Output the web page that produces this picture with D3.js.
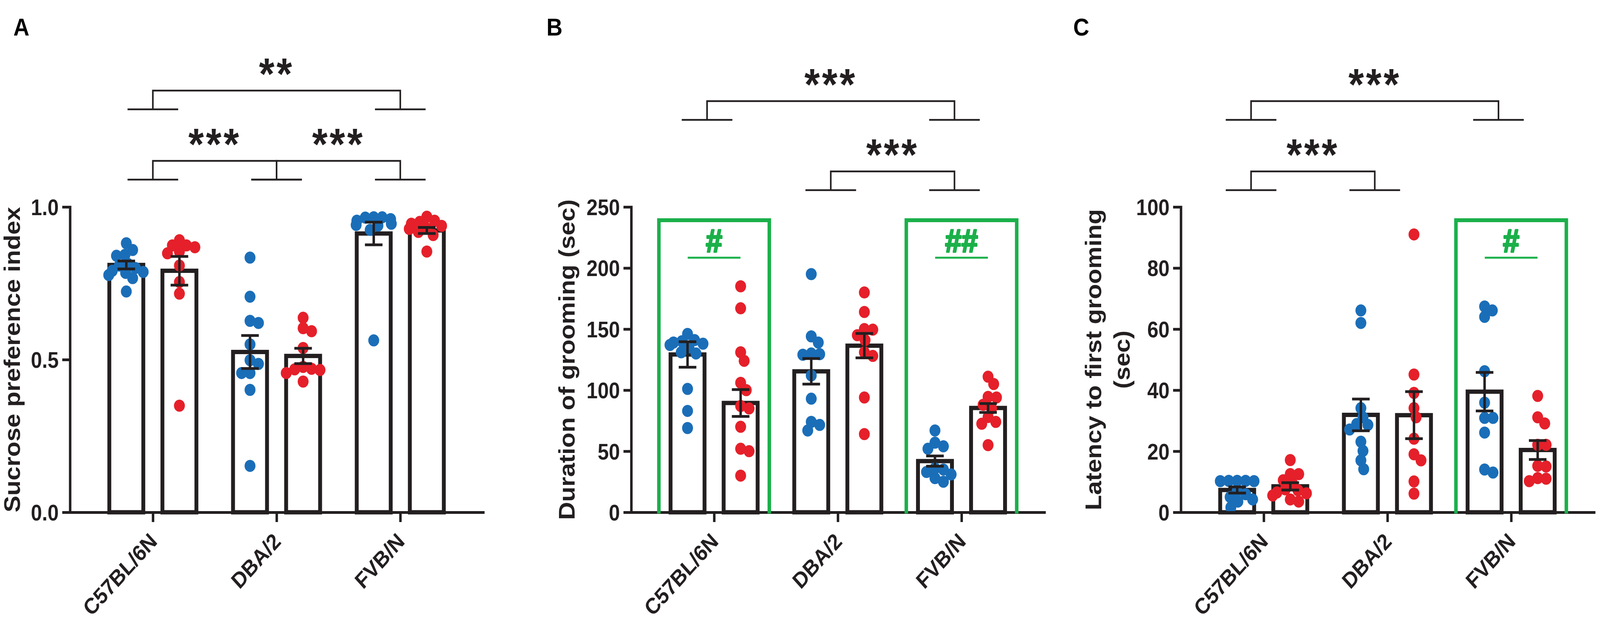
<!DOCTYPE html>
<html>
<head>
<meta charset="utf-8">
<script src="https://cdn.jsdelivr.net/npm/d3@7"></script>
<style>
  html, body { margin: 0; padding: 0; width: 100%; height: 100%; overflow: hidden; background: #fff; }
  svg { display: block; }
  text { font-family: "Liberation Sans", Arial, sans-serif; font-weight: bold; }
</style>
</head>
<body>
<svg id="chart" width="100%" height="100%" viewBox="0 0 4550 1593" preserveAspectRatio="none"></svg>
<script>
// ---- data ----
const strains = ['C57BL/6N', 'DBA/2', 'FVB/N'];
const series = ['blue', 'red'];

// A: sucrose preference index
const sucroseMean = [[0.810, 0.791], [0.525, 0.512], [0.913, 0.923]];
const sucroseSem = [[0.013, 0.047], [0.054, 0.025], [0.037, 0.010]];
const sucrosePoints = [
  [[0.881, 0.859, 0.843, 0.840, 0.814, 0.808, 0.800, 0.791, 0.787, 0.784, 0.777, 0.767, 0.723],
   [0.891, 0.874, 0.874, 0.868, 0.854, 0.848, 0.808, 0.754, 0.716, 0.349]],
  [[0.834, 0.706, 0.627, 0.620, 0.550, 0.498, 0.486, 0.456, 0.456, 0.401, 0.152],
   [0.637, 0.603, 0.593, 0.538, 0.476, 0.470, 0.468, 0.466, 0.456, 0.428]],
  [[0.966, 0.966, 0.965, 0.960, 0.955, 0.945, 0.941, 0.939, 0.925, 0.563],
   [0.968, 0.955, 0.951, 0.945, 0.938, 0.930, 0.928, 0.918, 0.908, 0.854]]
];
const sucroseTicks = [0, 0.5, 1.0];

// B: duration of grooming (sec)
const groomMean = [[129.2, 89.5], [115.4, 136.4], [41.9, 85.4]];
const groomSem = [[10.4, 11.0], [10.5, 10.0], [4.2, 3.6]];
const groomPoints = [
  [[146, 141, 140, 139, 138, 137, 135, 131, 130, 101, 83, 69],
   [185, 167, 131, 124, 106, 100, 87, 85, 70, 52, 50, 30]],
  [[195, 144, 139, 130, 129.5, 129, 112, 93, 74, 71.5, 67],
   [180, 164, 150, 149.5, 145, 141, 131, 128, 94, 64]],
  [[67, 57, 54, 52, 36, 35, 33, 31, 28, 25],
   [111, 105, 94.5, 94, 88, 85, 78, 74, 72.5, 55]]
];
const groomTicks = [0, 50, 100, 150, 200, 250];

// C: latency to first grooming (sec)
const latencyMean = [[7.3, 8.5], [31.9, 31.8], [39.5, 20.4]];
const latencySem = [[1.0, 1.2], [5.2, 7.7], [6.3, 3.1]];
const latencyPoints = [
  [[10.3, 10.3, 10.3, 10.2, 10.2, 7.0, 5.9, 5.0, 4.2, 3.5, 1.6],
   [17.1, 12.5, 12.5, 10.5, 9.5, 7.5, 7.2, 6.5, 6.2, 5.5, 4.2, 3.5]],
  [[66.1, 62.0, 34.1, 31.1, 28.9, 28.6, 27.1, 23.1, 20.1, 17.0, 14.1],
   [91.0, 45.1, 39.1, 34.1, 31.1, 24.1, 19.0, 17.0, 10.1, 6.1]],
  [[67.4, 66.1, 64.0, 46.2, 35.9, 30.9, 30.9, 26.1, 14.0, 13.0],
   [38.1, 31.1, 29.1, 22.1, 22.1, 15.2, 15.0, 11.2, 11.0, 10.2]]
];
const latencyTicks = [0, 20, 40, 60, 80, 100];

// significance annotations (group indices)
const sucroseSig = [{a: 0, b: 2, row: 0, label: '**'}, {a: 0, b: 1, row: 1, label: '***'}, {a: 1, b: 2, row: 1, label: '***'}];
const groomSig = [{a: 0, b: 2, row: 0, label: '***'}, {a: 1, b: 2, row: 1, label: '***'}];
const latencySig = [{a: 0, b: 2, row: 0, label: '***'}, {a: 0, b: 1, row: 1, label: '***'}];
const groomHash = [{g: 0, label: '#'}, {g: 2, label: '##'}];
const latencyHash = [{g: 2, label: '#'}];

// ---- layout ----
const colors = {blue: '#1a6eb8', red: '#e5202a'};
const ink = '#231f20';
const green = '#1bb04a';
const yTop = 530, yBase = 1312, axisLen = 1175;

const panels = [
  {letter: 'A', letterX: 38, x0: 199, max: 1, ticks: sucroseTicks, fmt: d3.format('.1f'),
   mean: sucroseMean, sem: sucroseSem, points: sucrosePoints, sig: sucroseSig, hash: [],
   title: ['Sucrose preference index'], titleX: [57], rows: [232, 412], shift: 0},
  {letter: 'B', letterX: 1554, x0: 1795, max: 250, ticks: groomTicks, fmt: d3.format('d'),
   mean: groomMean, sem: groomSem, points: groomPoints, sig: groomSig, hash: groomHash,
   title: ['Duration of grooming (sec)'], titleX: [1634], rows: [259, 439], shift: -20},
  {letter: 'C', letterX: 3052, x0: 3358, max: 100, ticks: latencyTicks, fmt: d3.format('d'),
   mean: latencyMean, sem: latencySem, points: latencyPoints, sig: latencySig, hash: latencyHash,
   title: ['Latency to first grooming', '(sec)'], titleX: [3132, 3213], rows: [259, 439], shift: -36}
];

const svg = d3.select('#chart');

// spread points sideways where they would overlap (like a column scatter)
function swarm(values, y, minDist, maxOff) {
  const placed = [];
  return values.map(v => {
    const py = y(v);
    let best = 0;
    for (let k = 0; k <= 40; k++) {
      const cands = k === 0 ? [0] : [k * 2, -k * 2];
      const ok = cands.find(dx => placed.every(p => Math.hypot(p.dx - dx, p.y - py) >= minDist));
      if (ok !== undefined) { best = ok; break; }
    }
    best = Math.max(-maxOff, Math.min(maxOff, best));
    placed.push({dx: best, y: py});
    return {v: v, dx: best, y: py};
  });
}

function draw(p) {
  const g = svg.append('g');

  const y = d3.scaleLinear().domain([0, p.max]).range([yBase, yTop]);
  const x = d3.scalePoint().domain(strains).range([p.x0, p.x0 + axisLen]).padding(0.67);
  const x1 = d3.scaleBand().domain(series).range([-151, 151]).paddingInner(0.36).paddingOuter(0.18);

  // bars
  strains.forEach((s, i) => {
    series.forEach((k, j) => {
      g.append('rect')
        .attr('x', x(s) + x1(k))
        .attr('y', y(p.mean[i][j]))
        .attr('width', x1.bandwidth())
        .attr('height', yBase - y(p.mean[i][j]))
        .attr('fill', '#fff')
        .attr('stroke', ink)
        .attr('stroke-width', 11);
    });
  });

  // dots
  strains.forEach((s, i) => {
    series.forEach((k, j) => {
      const cx = x(s) + x1(k) + x1.bandwidth() / 2;
      g.selectAll(null)
        .data(swarm(p.points[i][j], y, 24, 50))
        .join('circle')
        .attr('cx', d => cx + d.dx)
        .attr('cy', d => d.y)
        .attr('r', 15.5)
        .attr('fill', colors[k]);
    });
  });

  // error bars (mean +/- SEM)
  strains.forEach((s, i) => {
    series.forEach((k, j) => {
      const cx = x(s) + x1(k) + x1.bandwidth() / 2;
      const lo = y(p.mean[i][j] - p.sem[i][j]);
      const hi = y(p.mean[i][j] + p.sem[i][j]);
      const path = d3.path();
      path.moveTo(cx, lo); path.lineTo(cx, hi);
      path.moveTo(cx - 25, hi); path.lineTo(cx + 25, hi);
      path.moveTo(cx - 25, lo); path.lineTo(cx + 25, lo);
      g.append('path').attr('d', path.toString())
        .attr('fill', 'none').attr('stroke', ink).attr('stroke-width', 7);
    });
  });

  // y axis
  const ya = g.append('g')
    .attr('transform', `translate(${p.x0},0)`)
    .call(d3.axisLeft(y).tickValues(p.ticks).tickFormat(p.fmt).tickSize(22).tickSizeOuter(0).tickPadding(10));
  ya.select('.domain').attr('stroke', ink).attr('stroke-width', 7).attr('stroke-linecap', 'square');
  ya.selectAll('.tick line').attr('stroke', ink).attr('stroke-width', 7);
  ya.selectAll('.tick text').attr('fill', ink).attr('font-size', 57).attr('dy', '0.36em');

  // x axis
  const xa = g.append('g')
    .attr('transform', `translate(0,${yBase})`)
    .call(d3.axisBottom(x).tickSize(25).tickSizeOuter(0));
  xa.select('.domain').attr('stroke', ink).attr('stroke-width', 7).attr('stroke-linecap', 'square');
  xa.selectAll('.tick line').attr('stroke', ink).attr('stroke-width', 7);
  xa.selectAll('.tick text')
    .attr('fill', ink).attr('font-size', 57)
    .attr('x', 0).attr('y', 0).attr('dy', 0)
    .attr('text-anchor', 'end')
    .attr('transform', 'translate(15,78) rotate(-45)');
  g.selectAll('.tick text').attr('font-family', '"Liberation Sans", Arial, sans-serif').attr('font-weight', 'bold');

  // axis title
  p.title.forEach((t, li) => {
    g.append('text')
      .attr('transform', `translate(${p.titleX[li]},921) rotate(-90)`)
      .attr('text-anchor', 'middle')
      .attr('font-size', 64)
      .attr('fill', ink)
      .text(t);
  });

  // panel letter
  g.append('text').attr('x', p.letterX).attr('y', 91)
    .attr('font-size', 63).attr('fill', '#000').text(p.letter);

  // green boxes with # marks
  p.hash.forEach(h => {
    const cx = x(strains[h.g]);
    g.append('path')
      .attr('d', `M${cx - 157},${yBase + 3}V564H${cx + 157}V${yBase + 3}`)
      .attr('fill', 'none').attr('stroke', green).attr('stroke-width', 10);
    g.append('line')
      .attr('x1', cx - 75).attr('x2', cx + 75).attr('y1', 660).attr('y2', 660)
      .attr('stroke', green).attr('stroke-width', 5);
    g.append('text').attr('x', cx).attr('y', 646)
      .attr('text-anchor', 'middle').attr('font-size', 84).attr('fill', green)
      .attr('stroke', green).attr('stroke-width', 4).attr('stroke-linejoin', 'round')
      .text(h.label);
  });

  // significance brackets
  p.sig.forEach(s => {
    const xa0 = x(strains[s.a]) + p.shift;
    const xb0 = x(strains[s.b]) + p.shift;
    const ly = p.rows[s.row];
    const cy = ly + 48;
    const path = d3.path();
    path.moveTo(xa0, cy); path.lineTo(xa0, ly); path.lineTo(xb0, ly); path.lineTo(xb0, cy);
    [xa0, xb0].forEach(c => { path.moveTo(c - 72, cy); path.lineTo(c + 72, cy); });
    g.append('path').attr('d', path.toString())
      .attr('fill', 'none').attr('stroke', ink).attr('stroke-width', 4.5);
    g.append('text').attr('x', (xa0 + xb0) / 2).attr('y', ly - 4)
      .attr('text-anchor', 'middle').attr('font-size', 113).attr('letter-spacing', 6)
      .attr('fill', ink).text(s.label);
  });
}

panels.forEach(draw);
</script>
</body>
</html>
